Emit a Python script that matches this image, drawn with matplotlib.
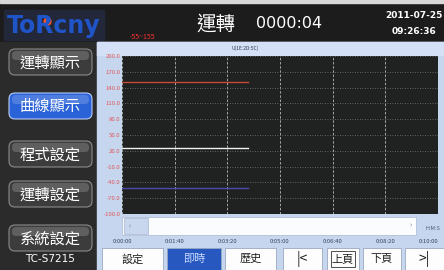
import matplotlib
matplotlib.use("Agg")
import matplotlib.pyplot as plt
from matplotlib.patches import Rectangle, FancyBboxPatch

plt.rcParams['font.family'] = ['Noto Sans CJK TC', 'DejaVu Sans']

# ---- data ----
time_s = [0, 240]
red_vals = [150, 150]
white_vals = [25, 25]
blue_vals = [-50, -50]
y_ticks = [200, 170, 140, 110, 80, 50, 20, -10, -40, -70, -100]
y_tick_labels = ["200.0", "170.0", "140.0", "110.0", "80.0", "50.0", "20.0",
                 "-10.0", "-40.0", "-70.0", "-100.0"]
x_ticks = [0, 100, 200, 300, 400, 500, 600]
x_tick_labels = ["0:00:00", "0:01:40", "0:03:20", "0:05:00", "0:06:40",
                 "0:08:20", "0:10:00"]
menu_labels = ["運轉顯示", "曲線顯示", "程式設定", "運轉設定", "系統設定"]
bottom_labels = ["設定", "即時", "歷史", "|<", "上頁", "下頁", ">|"]

W, H = 444, 270
fig = plt.figure(figsize=(W / 100, H / 100), dpi=100)
fig.patch.set_facecolor("#262626")

# UI background axes in pixel coordinates
ui = fig.add_axes([0, 0, 1, 1], zorder=0)
ui.set_xlim(0, W)
ui.set_ylim(H, 0)
ui.axis("off")

# top bar
ui.add_patch(Rectangle((0, 0), W, 42, color="#1c1c1c"))
ui.add_patch(Rectangle((0, 0), W, 3, color="#d8d8d8"))
ui.add_patch(Rectangle((4, 10), 100, 30, color="#22283a"))
# left column
ui.add_patch(Rectangle((0, 42), 97, H - 42, color="#2b2b2b"))
# chart panel
ui.add_patch(Rectangle((97, 42), W - 97, H - 42, color="#c6d6ef"))
ui.add_patch(Rectangle((97, 42), W - 97, 13, color="#d4e0f5"))
# scroll bar
ui.add_patch(Rectangle((122, 217), 294, 18, color="#fbfcfe", ec="#a8b8d0", lw=0.5))
ui.add_patch(Rectangle((124, 218), 24, 16, color="#c8d6ee", ec="#98a8c8", lw=0.4))
ui.text(130, 226, "‹", fontsize=5, color="#6070a0", ha="center", va="center")
ui.text(411, 225, "›", fontsize=5, color="#6070a0", ha="center", va="center")
ui.text(433, 229, "H:M:S", fontsize=4, color="#505a70", ha="center", va="center")

# logo
ui.text(54, 26, "ToRcny", fontsize=17, color="#1f55c8", fontweight="bold",
        ha="center", va="center", family="DejaVu Sans")
ui.plot([47], [21], "o", color="#ff5020", ms=5)

# header texts
ui.text(142, 37, "-55~155", fontsize=5, color="#ff3030", ha="center", va="center")
ui.text(216, 24, "運轉", fontsize=14, color="white", ha="center", va="center")
ui.text(289, 24, "0000:04", fontsize=11.5, color="white", ha="center", va="center",
        family="DejaVu Sans")
ui.text(414, 16, "2011-07-25", fontsize=6.5, color="white", ha="center", va="center",
        fontweight="bold", family="DejaVu Sans")
ui.text(414, 31, "09:26:36", fontsize=6.5, color="white", ha="center", va="center",
        fontweight="bold", family="DejaVu Sans")
ui.text(245, 48, "U(1E:2D:5C)", fontsize=3.5, color="#303848", ha="center", va="center")

# left menu buttons
menu_y = [62, 106, 154, 194, 238]
for lbl, yc in zip(menu_labels, menu_y):
    active = lbl == "曲線顯示"
    face = "#2a62d8" if active else "#3c3c3c"
    edge = "#b8ccf4" if active else "#8a8a8a"
    ui.add_patch(FancyBboxPatch((9, yc - 13), 83, 26,
                                boxstyle="round,pad=0,rounding_size=6",
                                fc=face, ec=edge, lw=0.8))
    ui.add_patch(FancyBboxPatch((12, yc - 11), 77, 9,
                                boxstyle="round,pad=0,rounding_size=4",
                                fc="white", ec="none", alpha=0.18))
    ui.text(50, yc + 1, lbl, fontsize=11, color="white", ha="center", va="center")
ui.text(50, 259, "TC-S7215", fontsize=7.5, color="white", ha="center", va="center",
        family="DejaVu Sans")

# bottom buttons
btn_x = [(102, 163), (167, 221), (225, 276), (283, 322), (327, 359),
         (363, 401), (405, 444)]
for lbl, (x0, x1) in zip(bottom_labels, btn_x):
    active = lbl == "即時"
    face = "#2758bf" if active else "#fdfdfd"
    ui.add_patch(Rectangle((x0, 248), x1 - x0, 23, fc=face, ec="#9aa8c0", lw=0.6))
    if lbl == "上頁":
        ui.add_patch(Rectangle((x0 + 4, 251), x1 - x0 - 8, 16, fc="none",
                               ec="#303030", lw=0.6))
    fs = 10 if lbl in ("|<", ">|") else 8
    ui.text((x0 + x1) / 2, 259, lbl, fontsize=fs,
            color="#c8d8ff" if active else "#202020", ha="center", va="center")

# ---- chart ----
left, right, top, bottom = 122, 438, 56, 214
ax = fig.add_axes([left / W, 1 - bottom / H, (right - left) / W, (bottom - top) / H],
                  zorder=2)
ax.set_facecolor("#1f2220")
ax.plot(time_s, red_vals, color="#c84a38", lw=1.0)
ax.plot(time_s, white_vals, color="#f0f0f0", lw=1.0)
ax.plot(time_s, blue_vals, color="#4a4ab0", lw=1.0)
ax.set_xlim(0, 600)
ax.set_ylim(-100, 200)
ax.set_yticks(y_ticks)
ax.set_yticklabels(y_tick_labels)
ax.set_xticks(x_ticks)
ax.set_xticklabels(x_tick_labels)
ax.tick_params(axis="y", length=0, labelsize=4.3, labelcolor="#e05858", pad=1)
ax.tick_params(axis="x", length=0, labelsize=4.3, labelcolor="#3a4458", pad=18)
ax.get_xticklabels()[-1].set_horizontalalignment("right")
ax.grid(axis="y", color="#7a7a7a", linestyle=(0, (1, 2)), lw=0.6)
ax.grid(axis="x", color="#b8b8b8", linestyle=(0, (3, 2)), lw=0.6)
for s in ax.spines.values():
    s.set_visible(False)

fig.savefig("out.png", dpi=100, facecolor=fig.get_facecolor())
